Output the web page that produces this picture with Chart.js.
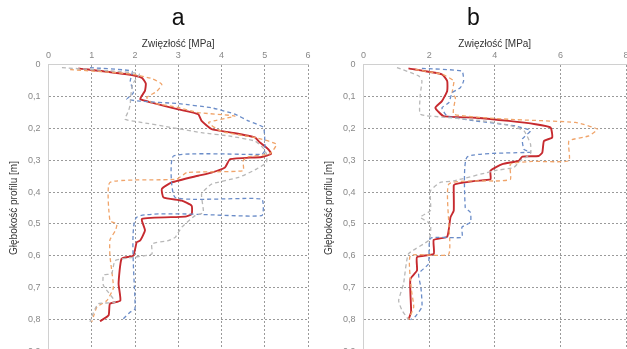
<!DOCTYPE html>
<html>
<head>
<meta charset="utf-8">
<script src="https://cdn.jsdelivr.net/npm/chart.js@4.4.0/dist/chart.umd.min.js"></script>
<style>
  html, body { margin: 0; padding: 0; background: #fff; overflow: hidden; }
  .panel { position: absolute; top: 0; }
</style>
</head>
<body>
<div class="panel" style="left:0px"><canvas id="chartA" width="318" height="365"></canvas></div>
<div class="panel" style="left:315px"><canvas id="chartB" width="326" height="365"></canvas></div>
<script>
// panel a: depth [m] / strength [MPa]
const aRedDepth = [0.0125,0.031,0.042,0.06,0.083,0.1,0.109,0.12,0.141,0.156,0.177,0.203,0.214,0.229,0.245,0.266,0.28,0.29,0.297,0.323,0.339,0.349,0.37,0.39,0.417,0.427,0.443,0.469,0.477,0.484,0.52,0.552,0.557,0.599,0.609,0.687,0.74,0.75,0.786,0.805]
const aRedVal = [0.69,1.81,2.16,2.25,2.23,2.15,2.12,2.39,3.0,3.46,3.54,3.77,4.24,4.77,4.89,5.08,5.15,4.93,4.2,4.08,3.77,3.46,2.85,2.62,2.66,3.08,3.31,3.31,3.16,2.16,2.23,2.12,2.04,1.96,1.69,1.62,1.66,1.42,1.39,1.19]
const aOrangeDepth = [0.016,0.03,0.045,0.0625,0.085,0.104,0.12,0.135,0.151,0.162,0.182,0.21,0.23,0.25,0.28,0.29,0.302,0.333,0.339,0.36,0.37,0.49,0.5,0.52,0.55,0.6,0.7,0.74,0.76,0.79,0.807]
const aOrangeVal = [0.5,1.9,2.4,2.62,2.5,2.27,2.39,3.0,3.46,4.31,3.7,4.0,4.8,5.27,5.12,4.6,4.5,4.5,3.2,2.96,1.42,1.42,1.58,1.55,1.42,1.42,1.5,1.35,1.12,1.04,1.0]
const aBlueDepth = [0.01,0.021,0.052,0.089,0.109,0.115,0.123,0.136,0.156,0.177,0.198,0.27,0.282,0.287,0.417,0.422,0.474,0.479,0.766,0.776,0.797]
const aBlueVal = [0.96,1.93,1.89,1.96,1.81,2.12,3.0,3.77,4.31,4.62,4.97,5.0,4.93,2.89,2.93,4.93,4.93,2.04,2.0,1.89,1.73]
const aGrayDepth = [0.01,0.02,0.03,0.06,0.1,0.125,0.146,0.172,0.18,0.198,0.214,0.224,0.24,0.26,0.281,0.307,0.328,0.354,0.375,0.406,0.464,0.474,0.51,0.542,0.552,0.5625,0.594,0.604,0.615,0.656,0.66,0.693,0.745,0.75,0.79,0.807]
const aGrayVal = [0.31,1.4,2.1,1.95,1.9,1.89,1.85,1.77,2.08,2.85,3.54,4.16,4.77,4.95,5.04,5.04,4.81,4.4,3.77,3.54,3.58,3.39,3.08,2.93,2.77,2.39,2.39,2.0,1.54,1.46,1.27,1.27,1.54,1.15,1.0,0.96]

// panel b
const bRedDepth = [0.0125,0.031,0.052,0.083,0.115,0.136,0.162,0.167,0.177,0.1875,0.198,0.229,0.24,0.276,0.287,0.289,0.302,0.3125,0.333,0.36,0.365,0.375,0.38,0.458,0.479,0.54,0.55,0.594,0.604,0.646,0.672,0.719,0.776,0.8]
const bRedVal = [1.37,2.39,2.55,2.55,2.39,2.19,2.44,3.41,4.43,5.24,5.7,5.75,5.5,5.45,5.34,4.84,4.73,4.23,3.87,3.87,3.41,2.8,2.75,2.75,2.65,2.55,2.14,2.14,1.63,1.63,1.43,1.43,1.45,1.37]
const bOrangeDepth = [0.016,0.031,0.052,0.09,0.104,0.156,0.172,0.182,0.203,0.224,0.24,0.302,0.304,0.3125,0.36,0.365,0.375,0.594,0.599,0.7,0.76,0.8]
const bOrangeVal = [1.58,2.4,2.75,2.7,2.8,2.75,4.43,6.46,7.13,6.87,6.26,6.26,5.14,4.48,4.48,4.17,2.6,2.6,1.43,1.45,1.53,1.37]
const bBlueDepth = [0.0125,0.021,0.052,0.073,0.089,0.12,0.136,0.162,0.177,0.193,0.208,0.234,0.266,0.275,0.29,0.448,0.464,0.495,0.51,0.542,0.545,0.625,0.656,0.7,0.76,0.79,0.8]
const bBlueVal = [1.78,3.0,3.05,2.95,2.7,2.6,2.39,2.55,3.41,4.63,5.09,4.84,4.89,5.09,3.16,3.1,3.26,3.26,3.0,3.0,2.04,1.98,1.68,1.75,1.78,1.58,1.43]
const bGrayDepth = [0.01,0.036,0.052,0.094,0.156,0.165,0.175,0.19,0.208,0.25,0.28,0.302,0.323,0.333,0.365,0.37,0.396,0.458,0.479,0.5,0.55,0.594,0.6875,0.74,0.77,0.8]
const bGrayVal = [1.02,1.68,1.78,1.73,1.73,2.4,3.5,4.4,4.89,5.09,5.09,4.78,4.58,4.0,2.75,2.34,2.04,2.04,1.73,2.04,2.0,1.37,1.22,1.07,1.17,1.37]

const depthTicks = [0,0.1,0.2,0.3,0.4,0.5,0.6,0.7,0.8,0.9]

function pts(depth, val) {
    return depth.map((d, i) => ({x: val[i], y: d}))
}

function series(depth, val, color, dashed, width) {
    return {
        data: pts(depth, val),
        showLine: true,
        borderColor: color,
        backgroundColor: color,
        borderWidth: width,
        borderDash: dashed ? [4, 3] : [],
        pointRadius: 0,
        tension: 0.15,
        fill: false
    }
}

const font = "Liberation Sans, Arial"

function makeChart(id, title, titleFull, xMax, xStep, padRight, sets) {
    return new Chart(id, {
        type: "scatter",
        data: {datasets: sets},
        options: {
            responsive: false,
            animation: false,
            devicePixelRatio: 1,
            layout: {padding: {left: 6, right: padRight, top: 5, bottom: 0}},
            plugins: {
                legend: {display: false},
                tooltip: {enabled: false},
                title: {
                    display: true,
                    text: title,
                    fullSize: titleFull,
                    color: "#111",
                    font: {family: font, size: 23, weight: "normal"},
                    padding: {top: 0, bottom: 6}
                }
            },
            scales: {
                x: {
                    type: "linear",
                    position: "top",
                    min: 0,
                    max: xMax,
                    ticks: {stepSize: xStep, color: "#888", font: {family: font, size: 9}, padding: 3},
                    grid: {color: "#9a9a9a", drawTicks: false},
                    border: {color: "#d0d0d0", dash: [2, 2]},
                    title: {display: true, text: "Zwięzłość [MPa]", color: "#333", font: {family: font, size: 10}, padding: {top: 0, bottom: -3}}
                },
                y: {
                    type: "linear",
                    reverse: true,
                    min: 0,
                    max: 0.9,
                    afterBuildTicks: axis => { axis.ticks = depthTicks.map(v => ({value: v})) },
                    ticks: {
                        color: "#888",
                        font: {family: font, size: 9},
                        padding: 8,
                        callback: v => String(Math.round(v * 10) / 10).replace(".", ",")
                    },
                    grid: {color: "#9a9a9a", drawTicks: false},
                    border: {color: "#d0d0d0", dash: [2, 2]},
                    title: {display: true, text: "Głębokość profilu [m]", color: "#333", font: {family: font, size: 10}, padding: {top: 2, bottom: 0}}
                }
            }
        }
    })
}

const red = "#c62a2f", orange = "#f0a46a", blue = "#6a8cc8", gray = "#b8b8b8"

makeChart("chartA", "a", false, 6, 1, 10, [
    series(aGrayDepth, aGrayVal, gray, true, 1.3),
    series(aBlueDepth, aBlueVal, blue, true, 1.3),
    series(aOrangeDepth, aOrangeVal, orange, true, 1.3),
    series(aRedDepth, aRedVal, red, false, 1.9)
])

makeChart("chartB", "b", true, 8, 2, 15, [
    series(bGrayDepth, bGrayVal, gray, true, 1.3),
    series(bBlueDepth, bBlueVal, blue, true, 1.3),
    series(bOrangeDepth, bOrangeVal, orange, true, 1.3),
    series(bRedDepth, bRedVal, red, false, 1.9)
])
</script>
</body>
</html>
